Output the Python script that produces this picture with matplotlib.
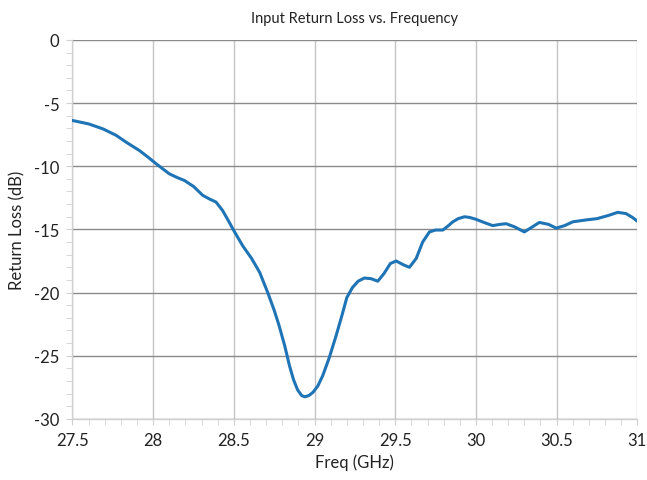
import matplotlib
matplotlib.use('Agg')
import matplotlib.pyplot as plt
from matplotlib.ticker import MultipleLocator

matplotlib.rcParams['font.family'] = ['Lato', 'DejaVu Sans']
matplotlib.rcParams['axes.unicode_minus'] = False

# Measured S11 of the input port
freq_ghz = [27.5, 27.6, 27.688, 27.77, 27.833, 27.915, 27.97, 28.019, 28.1, 28.15,
            28.194, 28.25, 28.307, 28.35, 28.39, 28.43, 28.47, 28.5, 28.555, 28.61,
            28.66, 28.71, 28.75, 28.78, 28.815, 28.845, 28.87, 28.895, 28.92, 28.94,
            28.965, 28.99, 29.02, 29.05, 29.09, 29.134, 29.17, 29.2, 29.235, 29.27,
            29.309, 29.35, 29.392, 29.43, 29.47, 29.506, 29.55, 29.588, 29.63, 29.67,
            29.712, 29.75, 29.795, 29.83, 29.857, 29.89, 29.929, 29.96, 30.0, 30.05,
            30.104, 30.15, 30.187, 30.24, 30.3, 30.35, 30.393, 30.45, 30.497, 30.55,
            30.6, 30.683, 30.75, 30.82, 30.879, 30.93, 30.97, 31.0]
s11_db = [-6.38, -6.65, -7.04, -7.55, -8.1, -8.76, -9.3, -9.81, -10.6, -10.9,
          -11.13, -11.6, -12.3, -12.6, -12.84, -13.5, -14.4, -15.1, -16.3, -17.3,
          -18.4, -20.0, -21.4, -22.6, -24.2, -25.8, -26.9, -27.7, -28.15, -28.25,
          -28.15, -27.9, -27.4, -26.6, -25.2, -23.4, -21.8, -20.4, -19.6, -19.1,
          -18.85, -18.9, -19.1, -18.5, -17.7, -17.5, -17.8, -18.0, -17.3, -16.0,
          -15.2, -15.05, -15.05, -14.7, -14.4, -14.15, -14.0, -14.05, -14.2, -14.45,
          -14.7, -14.6, -14.55, -14.8, -15.2, -14.8, -14.45, -14.6, -14.9, -14.7,
          -14.4, -14.25, -14.15, -13.9, -13.65, -13.75, -14.05, -14.35]
x_ticks = [27.5, 28, 28.5, 29, 29.5, 30, 30.5, 31]
x_labels = ['27.5', '28', '28.5', '29', '29.5', '30', '30.5', '31']

fig = plt.figure(figsize=(6.47, 4.81), dpi=100)
ax = fig.add_axes([0.112, 0.127, 0.873, 0.788])

ax.plot(freq_ghz, s11_db, color='#1f74b6', lw=2.2, solid_joinstyle='round',
        solid_capstyle='round', zorder=3)

ax.set_xlim(27.5, 31)
ax.set_ylim(-30, 0)
ax.set_xticks(x_ticks)
ax.set_xticklabels(x_labels)
ax.xaxis.set_minor_locator(MultipleLocator(0.1))
ax.yaxis.set_major_locator(MultipleLocator(5))
ax.yaxis.set_minor_locator(MultipleLocator(1))

ax.grid(True, axis='y', which='major', color='#8a8a8a', lw=1.0)
ax.grid(True, axis='x', which='major', color='#c4c4c4', lw=1.0)
ax.set_axisbelow(True)

for side in ['top', 'right']:
    ax.spines[side].set_visible(False)
for side in ['left', 'bottom']:
    ax.spines[side].set_color('#d0d0d0')
    ax.spines[side].set_linewidth(1.0)

ax.tick_params(which='both', color='#d0d0d0', labelcolor='#222222', labelsize=12,
               length=4.5, direction='out')
ax.tick_params(which='major', pad=5)

ax.set_xlabel('Freq (GHz)', fontsize=12, color='#222222', labelpad=4)
ax.set_ylabel('Return Loss (dB)', fontsize=12, color='#222222', labelpad=6)
ax.set_title('Input Return Loss vs. Frequency', fontsize=10.5, color='#222222', pad=13)

fig.savefig('out.png', dpi=100)
